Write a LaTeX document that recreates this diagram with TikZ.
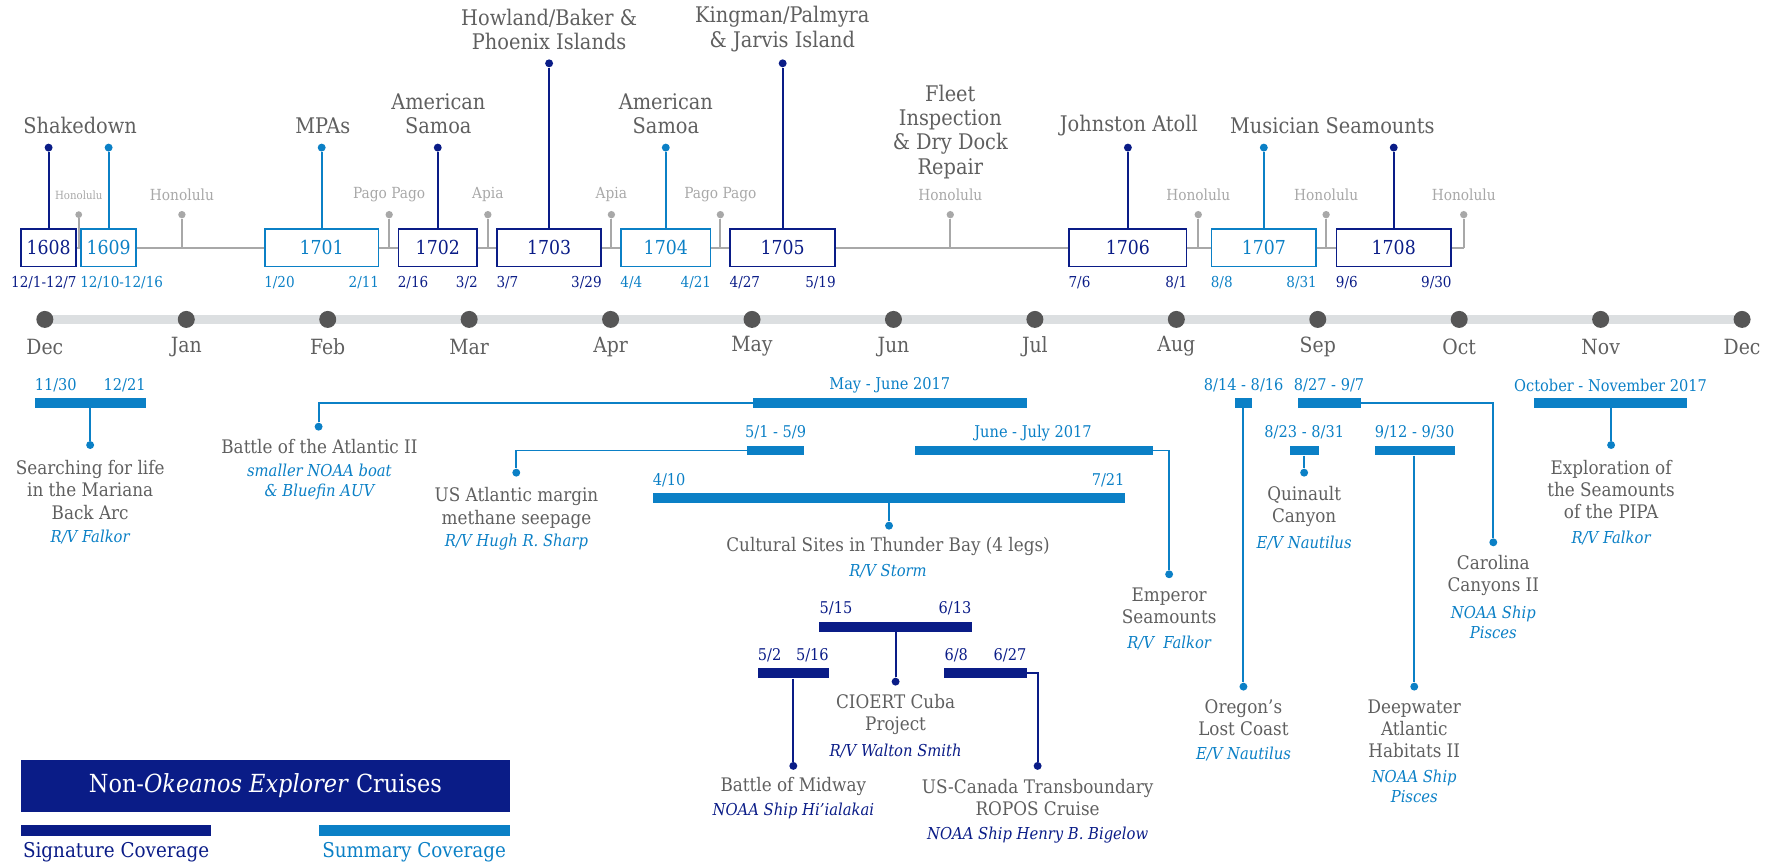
\documentclass[tikz,border=0pt]{standalone}
\usepackage{fontspec}
\setmainfont{DejaVu Serif Condensed}
\usetikzlibrary{positioning}
\definecolor{navy}{HTML}{0A1C87}
\definecolor{sky}{HTML}{0B80C6}
\definecolor{ink}{HTML}{5F5F5F}
\definecolor{portgray}{HTML}{A8A8A8}
\definecolor{railgray}{HTML}{DCDFE1}
\definecolor{knobgray}{HTML}{565656}

\begin{document}
\begin{tikzpicture}[
    x=1pt, y=-1pt,
    cruisebox/.style={draw=#1, text=#1, fill=white, line width=1.5pt, inner sep=0pt,
      minimum height=33pt, font=\fontsize{17}{17}\selectfont},
    cruisebar/.style={fill=#1, inner sep=0pt, minimum height=8.5pt},
    stick/.style={line width=1.7pt},
    knob/.style={circle, fill=#1, inner sep=0pt, minimum size=7pt},
    port/.style={font=\fontsize{13.5}{13.5}\selectfont, text=portgray, inner sep=0pt},
    dock/.style={portgray, line width=1.8pt},
    topic/.style={font=\fontsize{19}{21.5}\selectfont, text=ink, align=center, inner sep=0pt},
    dates/.style={font=\fontsize{13.3}{13.3}\selectfont, inner sep=0pt},
    barlabel/.style={font=\fontsize{14.3}{14.3}\selectfont, inner sep=0pt},
    month/.style={font=\fontsize{18.5}{18.5}\selectfont, text=ink, inner sep=0pt},
    site/.style={font=\fontsize{16.5}{19.5}\selectfont, text=ink, align=center, inner sep=0pt},
    vessel/.style={font=\fontsize{14.5}{17.5}\selectfont\itshape, align=center, inner sep=0pt},
  ]
  \useasboundingbox (0,0) rectangle (1568,764);

  % months
  \coordinate (railW) at (39.6,282);
  \coordinate (railE) at (1538,282);
  \draw[railgray, line width=8pt] (railW) -- (railE);
  \foreach \m [count=\i from 0] in {Dec,Jan,Feb,Mar,Apr,May,Jun,Jul,Aug,Sep,Oct,Nov,Dec} {
    \node[knob=knobgray, minimum size=15pt] (m\i) at ({39.6+124.87*\i},282) {};
    \node[month] (ml\i) at ({39.6+124.87*\i},306) {\m};
  }

  % ports and the line through the cruises
  \coordinate (lineW) at (60,218.7);
  \coordinate (lineE) at (1292.3,218.7);
  \draw[dock] (lineW) -- (lineE);
  \node[knob=portgray, minimum size=6pt] (p0) at (69.5,189.5) {};
  \node[port, font=\fontsize{10}{10}\selectfont] (pl0) at (69.5,172.5) {Honolulu};
  \draw[dock] (p0) -- (p0 |- lineW);
  \foreach \x/\p [count=\i] in {160.6/Honolulu, 343.6/Pago Pago, 430.7/Apia, 539.8/Apia,
      636/Pago Pago, 839/Honolulu, 1057.9/Honolulu, 1170.8/Honolulu, 1292.3/Honolulu} {
    \node[knob=portgray, minimum size=6.5pt] (p\i) at (\x,189.5) {};
    \node[port] (pl\i) at (\x,172) {\p};
    \draw[dock] (p\i) -- (p\i |- lineW);
  }

  % Okeanos Explorer cruises
  \foreach \n/\c/\w/\col/\ky in {1608/42.9/48.4/navy/130.3, 1609/95.9/48.8/sky/130.3,
      1701/284/100.3/sky/130.3, 1702/386.5/69.4/navy/130.3, 1703/484.8/91.7/navy/55.9,
      1704/587.8/78.9/sky/130.3, 1705/691/92.5/navy/55.9, 1706/995.8/103.6/navy/130.3,
      1707/1115.8/92.5/sky/130.3, 1708/1230.5/101/navy/130.3} {
    \node[cruisebox=\col, minimum width=\w] (b\n) at (\c,218.7) {\n};
    \node[knob=\col] (k\n) at (\c,\ky) {};
    \draw[stick, \col] (b\n) -- (k\n);
  }
  \node[dates, navy, below left=8pt and 0pt of b1608.south east] (d1608) {12/1-12/7};
  \node[dates, sky, below right=8pt and 0pt of b1609.south west] (d1609) {12/10-12/16};
  \node[dates, sky, below right=8pt and 0pt of b1701.south west] (d1701a) {1/20};
  \node[dates, sky, below left=8pt and 0pt of b1701.south east] (d1701b) {2/11};
  \node[dates, navy, below right=8pt and 0pt of b1702.south west] (d1702a) {2/16};
  \node[dates, navy, below left=8pt and 0pt of b1702.south east] (d1702b) {3/2};
  \node[dates, navy, below right=8pt and 0pt of b1703.south west] (d1703a) {3/7};
  \node[dates, navy, below left=8pt and 0pt of b1703.south east] (d1703b) {3/29};
  \node[dates, sky, below right=8pt and 0pt of b1704.south west] (d1704a) {4/4};
  \node[dates, sky, below left=8pt and 0pt of b1704.south east] (d1704b) {4/21};
  \node[dates, navy, below right=8pt and 0pt of b1705.south west] (d1705a) {4/27};
  \node[dates, navy, below left=8pt and 0pt of b1705.south east] (d1705b) {5/19};
  \node[dates, navy, below right=8pt and 0pt of b1706.south west] (d1706a) {7/6};
  \node[dates, navy, below left=8pt and 0pt of b1706.south east] (d1706b) {8/1};
  \node[dates, sky, below right=8pt and 0pt of b1707.south west] (d1707a) {8/8};
  \node[dates, sky, below left=8pt and 0pt of b1707.south east] (d1707b) {8/31};
  \node[dates, navy, below right=8pt and 0pt of b1708.south west] (d1708a) {9/6};
  \node[dates, navy, below left=8pt and 0pt of b1708.south east] (d1708b) {9/30};

  \node[topic] (tShake) at (70.7,110.9) {Shakedown};
  \node[topic] (tMPA) at (285,110.9) {MPAs};
  \node[topic] (tSamoaA) at (387,100.5) {American\\Samoa};
  \node[topic] (tHowland) at (484.8,25.8) {Howland/Baker \&\\Phoenix Islands};
  \node[topic] (tSamoaB) at (587.9,100.5) {American\\Samoa};
  \node[topic] (tKingman) at (690.7,25.8) {Kingman/Palmyra\\\& Jarvis Island};
  \node[topic] (tFleet) at (839,116.3) {Fleet\\Inspection\\\& Dry Dock\\Repair};
  \node[topic] (tJohnston) at (996.6,110.9) {Johnston Atoll};
  \node[topic] (tMusician) at (1176.3,110.9) {Musician Seamounts};

  % non-Okeanos cruises, summary coverage
  \node[cruisebar=sky, minimum width=98.3] (cMariana) at (79.65,356) {};
  \node[barlabel, sky, anchor=west] (lMarianaA) at (30.5,340) {11/30};
  \node[barlabel, sky, anchor=east] (lMarianaB) at (128.8,340) {12/21};
  \node[knob=sky] (kMariana) at (79.6,392.9) {};
  \node[site] (sMariana) at (79.6,432.6) {Searching for life\\in the Mariana\\Back Arc};
  \node[vessel, sky] (vMariana) at (79.6,473.8) {R/V Falkor};
  \draw[stick, sky] (kMariana |- cMariana.south) -- (kMariana);

  \node[cruisebar=sky, minimum width=242.3] (cAtlantic) at (785.75,356) {};
  \node[barlabel, sky] (lAtlantic) at (785.6,340) {May - June 2017};
  \node[knob=sky] (kAtlantic) at (281.3,376.7) {};
  \node[site] (sAtlantic) at (282,394.3) {Battle of the Atlantic II};
  \node[vessel, sky] (vAtlantic) at (282,425.2) {smaller NOAA boat\\\& Bluefin AUV};
  \draw[stick, sky] (cAtlantic.west) -| (kAtlantic);

  \node[cruisebar=sky, minimum width=50.5] (cMethane) at (684.75,397.7) {};
  \node[barlabel, sky] (lMethane) at (684.8,382) {5/1 - 5/9};
  \node[knob=sky] (kMethane) at (455.8,417.3) {};
  \node[site] (sMethane) at (456,448.5) {US Atlantic margin\\methane seepage};
  \node[vessel, sky] (vMethane) at (456,479) {R/V Hugh R. Sharp};
  \draw[stick, sky] (cMethane.west) -| (kMethane);

  \node[cruisebar=sky, minimum width=210.1] (cEmperor) at (912.65,397.7) {};
  \node[barlabel, sky] (lEmperor) at (912,382) {June - July 2017};
  \node[knob=sky] (kEmperor) at (1032.2,507) {};
  \node[site] (sEmperor) at (1032.2,534.9) {Emperor\\Seamounts};
  \node[vessel, sky] (vEmperor) at (1032.2,567.4) {R/V\ \ Falkor};
  \draw[stick, sky] (cEmperor.east) -| (kEmperor);

  \node[cruisebar=sky, minimum width=416.9] (cThunder) at (784.55,439.6) {};
  \node[barlabel, sky, anchor=west] (lThunderA) at (576.1,424) {4/10};
  \node[barlabel, sky, anchor=east] (lThunderB) at (993,424) {7/21};
  \node[knob=sky] (kThunder) at (784.9,464.1) {};
  \node[site] (sThunder) at (784,482.6) {Cultural Sites in Thunder Bay (4 legs)};
  \node[vessel, sky] (vThunder) at (784,504.7) {R/V Storm};
  \draw[stick, sky] (kThunder |- cThunder.south) -- (kThunder);

  \node[cruisebar=sky, minimum width=15.1] (cOregon) at (1097.95,356) {};
  \node[barlabel, sky] (lOregon) at (1098,340) {8/14 - 8/16};
  \node[knob=sky] (kOregon) at (1097.8,606.2) {};
  \node[site] (sOregon) at (1097.8,633.9) {Oregon’s\\Lost Coast};
  \node[vessel, sky] (vOregon) at (1097.8,665.9) {E/V Nautilus};
  \draw[stick, sky] (kOregon |- cOregon.south) -- (kOregon);

  \node[cruisebar=sky, minimum width=55] (cCarolina) at (1173.9,356) {};
  \node[barlabel, sky] (lCarolina) at (1173.4,340) {8/27 - 9/7};
  \node[knob=sky] (kCarolina) at (1318.4,478.8) {};
  \node[site] (sCarolina) at (1318.4,508.2) {Carolina\\Canyons II};
  \node[vessel, sky] (vCarolina) at (1318.4,549.2) {NOAA Ship\\Pisces};
  \draw[stick, sky] (cCarolina.east) -| (kCarolina);

  \node[cruisebar=sky, minimum width=25.7] (cQuinault) at (1151.55,397.7) {};
  \node[barlabel, sky] (lQuinault) at (1151.5,382) {8/23 - 8/31};
  \node[knob=sky] (kQuinault) at (1151.4,417.3) {};
  \node[site] (sQuinault) at (1151.4,447) {Quinault\\Canyon};
  \node[vessel, sky] (vQuinault) at (1151.4,479) {E/V Nautilus};
  \draw[stick, sky] (kQuinault |- cQuinault.south) -- (kQuinault);

  \node[cruisebar=sky, minimum width=70.8] (cDeep) at (1249.2,397.7) {};
  \node[barlabel, sky] (lDeep) at (1248.9,382) {9/12 - 9/30};
  \node[knob=sky] (kDeep) at (1248.6,606.2) {};
  \node[site] (sDeep) at (1248.6,643.5) {Deepwater\\Atlantic\\Habitats II};
  \node[vessel, sky] (vDeep) at (1248.6,694.2) {NOAA Ship\\Pisces};
  \draw[stick, sky] (kDeep |- cDeep.south) -- (kDeep);

  \node[cruisebar=sky, minimum width=134.7] (cPIPA) at (1422.05,356) {};
  \node[barlabel, sky] (lPIPA) at (1421.9,340) {October - November 2017};
  \node[knob=sky] (kPIPA) at (1422.4,392.9) {};
  \node[site] (sPIPA) at (1422.4,432.5) {Exploration of\\the Seamounts\\of the PIPA};
  \node[vessel, sky] (vPIPA) at (1422.4,474.7) {R/V Falkor};
  \draw[stick, sky] (kPIPA |- cPIPA.south) -- (kPIPA);

  % non-Okeanos cruises, signature coverage
  \node[cruisebar=navy, minimum width=134.4, minimum height=9] (cCuba) at (790.6,553.2) {};
  \node[barlabel, navy, anchor=west] (lCubaA) at (723.4,537) {5/15};
  \node[barlabel, navy, anchor=east] (lCubaB) at (857.8,537) {6/13};
  \node[knob=navy] (kCuba) at (790.7,601.8) {};
  \node[site] (sCuba) at (790.7,630.5) {CIOERT Cuba\\Project};
  \node[vessel, navy] (vCuba) at (790.7,662.7) {R/V Walton Smith};
  \draw[stick, navy] (kCuba |- cCuba.south) -- (kCuba);

  \node[cruisebar=navy, minimum width=63, minimum height=9] (cMidway) at (700.4,594.4) {};
  \node[barlabel, navy, anchor=west] (lMidwayA) at (668.9,578.2) {5/2};
  \node[barlabel, navy, anchor=east] (lMidwayB) at (731.9,578.2) {5/16};
  \node[knob=navy] (kMidway) at (700.4,676.2) {};
  \node[site] (sMidway) at (700.4,694.5) {Battle of Midway};
  \node[vessel, navy] (vMidway) at (700.4,716) {NOAA Ship Hi’ialakai};
  \draw[stick, navy] (kMidway |- cMidway.south) -- (kMidway);

  \node[cruisebar=navy, minimum width=72.7, minimum height=9] (cROPOS) at (870.05,594.4) {};
  \node[barlabel, navy, anchor=west] (lROPOSA) at (833.7,578.2) {6/8};
  \node[barlabel, navy, anchor=east] (lROPOSB) at (906.4,578.2) {6/27};
  \node[knob=navy] (kROPOS) at (916.1,676.2) {};
  \node[site] (sROPOS) at (916.1,704.5) {US-Canada Transboundary\\ROPOS Cruise};
  \node[vessel, navy] (vROPOS) at (916.1,737.1) {NOAA Ship Henry B. Bigelow};
  \draw[stick, navy] (cROPOS.east) -| (kROPOS);

  % legend
  \node[fill=navy, text=white, inner sep=0pt, minimum width=431.4, minimum height=45.6,
    font=\fontsize{22}{22}\selectfont] (legend) at (234.3,693.8) {Non-\textit{Okeanos Explorer} Cruises};
  \node[cruisebar=navy, minimum width=167.8, minimum height=9.5] (sigBar) at (102.5,733) {};
  \node[font=\fontsize{18}{18}\selectfont, text=navy, inner sep=0pt] (sigText) at (102.5,752) {Signature Coverage};
  \node[cruisebar=sky, minimum width=168.7, minimum height=9.5] (sumBar) at (365.65,733) {};
  \node[font=\fontsize{18}{18}\selectfont, text=sky, inner sep=0pt] (sumText) at (365.65,752) {Summary Coverage};
\end{tikzpicture}
\end{document}
